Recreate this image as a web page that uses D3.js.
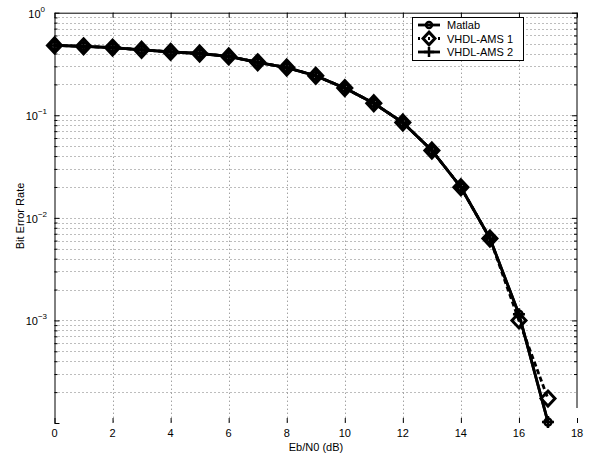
<!DOCTYPE html>
<html>
<head>
<meta charset="utf-8">
<script src="https://cdn.jsdelivr.net/npm/d3@7"></script>
<style>
  body { margin: 0; background: #fff; }
  text { font-family: "Liberation Sans", Arial, Helvetica, sans-serif; fill: #000; }
</style>
</head>
<body>
<div id="chart"></div>
<script>
// Eb/N0 points (dB)
var ebn0 = [0, 1, 2, 3, 4, 5, 6, 7, 8, 9, 10, 11, 12, 13, 14, 15, 16, 17];
// bit error rate
var berMatlab = [0.48, 0.47, 0.457, 0.435, 0.415, 0.40, 0.375, 0.328, 0.292, 0.243, 0.184, 0.131, 0.085, 0.0454, 0.0199, 0.0063, 0.00115, 0.000102];
var berVhdl1  = [0.48, 0.47, 0.457, 0.435, 0.415, 0.40, 0.375, 0.328, 0.292, 0.243, 0.184, 0.131, 0.085, 0.0454, 0.0199, 0.0063, 0.00100, 0.000173];
var berVhdl2  = [0.48, 0.47, 0.457, 0.435, 0.415, 0.40, 0.375, 0.328, 0.292, 0.243, 0.184, 0.131, 0.085, 0.0454, 0.0199, 0.0063, 0.00115, 0.000102];
var seriesNames = ["Matlab", "VHDL-AMS 1", "VHDL-AMS 2"];

var xTicks = [0, 2, 4, 6, 8, 10, 12, 14, 16, 18];
var yMajor = [1e-4, 1e-3, 1e-2, 1e-1, 1];
var yLabels = [{v: 1, e: "0"}, {v: 1e-1, e: "\u22121"}, {v: 1e-2, e: "\u22122"}, {v: 1e-3, e: "\u22123"}];

var width = 593, height = 456;
var svg = d3.select("#chart").append("svg")
    .attr("width", width)
    .attr("height", height);

var x = d3.scaleLinear().domain([0, 18]).range([54.5, 577]);
var y = d3.scaleLog().domain([1e-4, 1]).range([423, 12.7]);

// minor log values
var yMinor = [];
for (var d = 1e-4; d < 1; d *= 10) {
    for (var k = 2; k <= 9; k++) yMinor.push(d * k);
}

// grid (dotted)
var grid = svg.append("g").attr("stroke", "#7a7a7a").attr("stroke-width", 1).attr("stroke-dasharray", "1,3");
grid.selectAll(".gy")
    .data(yMinor.concat([1e-3, 1e-2, 1e-1]))
    .enter().append("line")
    .attr("x1", x(0)).attr("x2", x(18))
    .attr("y1", function(d) { return Math.round(y(d)) + 0.5; })
    .attr("y2", function(d) { return Math.round(y(d)) + 0.5; });
grid.selectAll(".gx")
    .data(xTicks.slice(1, -1))
    .enter().append("line")
    .attr("y1", y(1)).attr("y2", y(1e-4))
    .attr("x1", function(d) { return Math.round(x(d)) + 0.5; })
    .attr("x2", function(d) { return Math.round(x(d)) + 0.5; });

// axes with inward ticks
function styleAxis(sel) {
    sel.selectAll("line").attr("stroke", "#000");
    sel.selectAll("path").attr("stroke", "#000");
    sel.selectAll("text").remove();
}
svg.append("g")
    .attr("transform", "translate(" + x(0) + ",0)")
    .call(d3.axisLeft(y).tickValues(yMajor).tickSizeInner(-5).tickSizeOuter(0).tickFormat(""))
    .call(styleAxis);
svg.append("g")
    .attr("transform", "translate(" + x(0) + ",0)")
    .call(d3.axisLeft(y).tickValues(yMinor).tickSizeInner(-3).tickSizeOuter(0).tickFormat(""))
    .call(styleAxis)
    .select(".domain").remove();
var right = svg.append("g")
    .attr("transform", "translate(" + x(18) + ",0)")
    .call(d3.axisRight(y).tickValues(yMajor.slice(1)).tickSizeInner(-5).tickSizeOuter(0).tickFormat(""))
    .call(styleAxis);
right.select(".domain").remove();
svg.append("g")
    .attr("transform", "translate(" + x(18) + ",0)")
    .call(d3.axisRight(y).tickValues(yMinor.slice(1)).tickSizeInner(-3).tickSizeOuter(0).tickFormat(""))
    .call(styleAxis)
    .select(".domain").remove();
svg.append("line")
    .attr("x1", x(18)).attr("x2", x(18))
    .attr("y1", y(1)).attr("y2", 408)
    .attr("stroke", "#000");
svg.append("g")
    .attr("transform", "translate(0," + y(1) + ")")
    .call(d3.axisTop(x).tickValues(xTicks).tickSizeInner(-5).tickSizeOuter(0).tickFormat(""))
    .call(styleAxis);
var bottom = svg.append("g")
    .attr("transform", "translate(0," + y(1e-4) + ")")
    .call(d3.axisBottom(x).tickValues(xTicks).tickSizeInner(-5).tickSizeOuter(0).tickFormat(""))
    .call(styleAxis);
bottom.select(".domain").remove();

// tick labels
svg.selectAll(".xl")
    .data(xTicks)
    .enter().append("text")
    .attr("x", function(d) { return x(d); })
    .attr("y", 437)
    .attr("text-anchor", "middle")
    .attr("font-size", 11)
    .text(function(d) { return d; });

var yl = svg.selectAll(".yl")
    .data(yLabels)
    .enter().append("text")
    .attr("x", function(d) { return d.e == "0" ? 45 : 47; })
    .attr("y", function(d) { return y(d.v) + 5; })
    .attr("text-anchor", "end")
    .attr("font-size", 11);
yl.append("tspan").text("10");
yl.append("tspan").attr("dy", -6).attr("font-size", 8).text(function(d) { return d.e; });

// axis titles
svg.append("text")
    .attr("x", 316)
    .attr("y", 451)
    .attr("text-anchor", "middle")
    .attr("font-size", 11)
    .text("Eb/N0 (dB)");
svg.append("text")
    .attr("transform", "translate(24,216) rotate(-90)")
    .attr("text-anchor", "middle")
    .attr("font-size", 11)
    .text("Bit Error Rate");

// lines
var line = d3.line()
    .x(function(d, i) { return x(ebn0[i]); })
    .y(function(d) { return y(d); });

var allSeries = [
    {name: seriesNames[0], values: berMatlab, dash: null, marker: "circle"},
    {name: seriesNames[1], values: berVhdl1, dash: "5,3", marker: "diamond"},
    {name: seriesNames[2], values: berVhdl2, dash: null, marker: "plus"}
];

function drawMarker(g, type, cx, cy, sz) {
    sz = sz || 1;
    if (type == "circle") {
        g.append("circle").attr("cx", cx).attr("cy", cy).attr("r", 3.5 * sz)
            .attr("fill", "none").attr("stroke", "#000").attr("stroke-width", 2.5);
    } else if (type == "diamond") {
        var h = 7.5 * sz, w = 7 * sz;
        g.append("path")
            .attr("d", "M" + cx + "," + (cy - h) + "L" + (cx + w) + "," + cy + "L" + cx + "," + (cy + h) + "L" + (cx - w) + "," + cy + "Z")
            .attr("fill", "none").attr("stroke", "#000").attr("stroke-width", 3);
    } else {
        var a = 6 * sz;
        g.append("path")
            .attr("d", "M" + (cx - a) + "," + cy + "H" + (cx + a) + "M" + cx + "," + (cy - a) + "V" + (cy + a))
            .attr("fill", "none").attr("stroke", "#000").attr("stroke-width", 2.5);
    }
}

allSeries.forEach(function(s) {
    svg.append("path")
        .datum(s.values)
        .attr("fill", "none")
        .attr("stroke", "#000")
        .attr("stroke-width", 2.8)
        .attr("stroke-dasharray", s.dash)
        .attr("d", line);
    var mg = svg.append("g");
    s.values.forEach(function(v, i) {
        drawMarker(mg, s.marker, x(ebn0[i]), y(v));
    });
});

// legend
var lg = svg.append("g");
lg.append("rect")
    .attr("x", 412.5).attr("y", 17.5)
    .attr("width", 111).attr("height", 43)
    .attr("fill", "#fff").attr("stroke", "#000");
allSeries.forEach(function(s, i) {
    var ly = 25 + i * 13.5;
    lg.append("line")
        .attr("x1", 418).attr("x2", 440)
        .attr("y1", ly).attr("y2", ly)
        .attr("stroke", "#000").attr("stroke-width", 2.8)
        .attr("stroke-dasharray", s.dash ? "2,3" : null);
    drawMarker(lg, s.marker, 429, ly, 0.85);
    lg.append("text")
        .attr("x", 447).attr("y", ly + 4)
        .attr("font-size", 11)
        .text(s.name);
});
</script>
</body>
</html>
